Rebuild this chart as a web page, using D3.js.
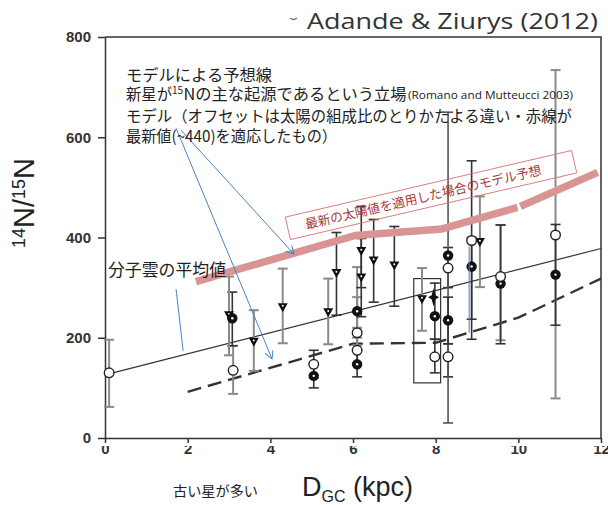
<!DOCTYPE html>
<html>
<head>
<meta charset="utf-8">
<script src="https://cdn.jsdelivr.net/npm/d3@7"></script>
<style>
body{margin:0;background:#fff;}
svg{display:block;}
</style>
</head>
<body>
<svg id="chart" width="608" height="505"></svg>
<script>
// tick labels
var xTicks = [0, 2, 4, 6, 8, 10, 12];
var yTicks = [0, 200, 400, 600, 800];

// open circles (D_GC kpc, 14N/15N, error low, error high, source)
var openD   = [0.1, 3.1, 5.05, 6.1, 6.1, 7.98, 8.3, 8.3, 8.87, 9.57, 10.9];
var openV   = [130, 135, 147, 210, 175, 162, 339, 162, 394, 322, 405];
var openLo  = [62, 88, 120, 185, 150, 130, 300, 122, 237, 195, 79];
var openHi  = [196, 184, 175, 281, 200, 197, 380, 188, 553, 425, 734];
var openSrc = [1, 1, 0, 1, 1, 0, 0, 0, 0, 1, 1];

// filled circles
var fillD   = [3.08, 5.05, 6.1, 6.1, 7.98, 8.3, 8.3, 8.87, 9.57, 10.9];
var fillV   = [239, 124, 253, 147, 243, 364, 235, 342, 308, 326];
var fillLo  = [184, 100, 220, 122, 197, 30, 188, 197, 188, 225];
var fillHi  = [291, 150, 341, 175, 309, 650, 281, 400, 425, 426];
var fillSrc = [0, 0, 1, 0, 0, 2, 0, 0, 0, 0];

// triangles (down)
var triD   = [3.0, 3.6, 4.3, 5.4, 5.6, 6.2, 6.2, 6.5, 7.0, 7.67, 9.07];
var triV   = [245, 192, 261, 251, 329, 373, 320, 354, 344, 277, 391];
var triLo  = [165, 134, 189, 187, 245, 300, 242, 271, 263, 214, 301];
var triHi  = [322, 255, 338, 318, 410, 462, 398, 436, 422, 339, 482];
var triSrc = [1, 1, 1, 1, 0, 0, 0, 0, 0, 1, 1];

// star
var starD = [7.95];
var starV = [281];

// molecular cloud mean (solid)
var meanD = [0, 12];
var meanV = [126, 378];

// model (dashed)
var dashD = [2, 6, 8, 10, 12];
var dashV = [92, 188, 190, 240, 318];

// model with latest solar value (red, two pieces)
var redD1 = [2.2, 6.05, 8.15, 9.98];
var redV1 = [312, 404, 417, 460];
var redD2 = [10.05, 11.92];
var redV2 = [462, 530];

// box around the solar-neighbourhood group
var boxD = [7.47, 8.12];
var boxV = [110, 318];

var svg = d3.select('#chart');
var x = d3.scaleLinear().domain([0, 12]).range([105, 601]);
var y = d3.scaleLinear().domain([0, 800]).range([438, 37]);

var ink = '#333';
var barCol = ['#333', '#8a8a8a', '#555'];

var defs = svg.append('defs');
defs.append('clipPath').attr('id', 'xlab')
	.append('rect').attr('x', -40).attr('y', 8).attr('width', 80).attr('height', 60);
defs.append('marker').attr('id', 'arr')
	.attr('viewBox', '0 0 10 10').attr('refX', 9).attr('refY', 5)
	.attr('markerWidth', 9).attr('markerHeight', 9)
	.attr('markerUnits', 'userSpaceOnUse').attr('orient', 'auto')
	.append('path').attr('d', 'M0,0 L9,5 L0,10')
	.attr('fill', 'none').attr('stroke', '#4f81bd').attr('stroke-width', 1.1);

// axes
var gy = svg.append('g').attr('transform', 'translate(105,0)')
	.call(d3.axisLeft(y).tickValues(yTicks).tickSize(7).tickSizeOuter(0).tickPadding(7));
var gx = svg.append('g').attr('transform', 'translate(0,438)')
	.call(d3.axisBottom(x).tickValues(xTicks).tickSize(5).tickSizeOuter(0).tickPadding(0));
[gx, gy].forEach(function(g){
	g.selectAll('path, line').attr('stroke', ink).attr('stroke-width', 1.5);
	g.selectAll('text').attr('fill', ink)
		.style('font', 'bold 15px "Liberation Sans", Arial, sans-serif');
});
gx.selectAll('text').attr('clip-path', 'url(#xlab)');

// frame top / right
svg.append('path')
	.attr('d', 'M' + x(0) + ',' + y(800) + 'H' + x(12) + 'V' + y(0))
	.attr('fill', 'none').attr('stroke', ink).attr('stroke-width', 1.5);

var line = d3.line().x(function(d){ return x(d[0]); }).y(function(d){ return y(d[1]); });

// mean line
svg.append('path').attr('d', line(d3.zip(meanD, meanV)))
	.attr('fill', 'none').attr('stroke', ink).attr('stroke-width', 1.2);

// dashed model
svg.append('path').attr('d', line(d3.zip(dashD, dashV)))
	.attr('fill', 'none').attr('stroke', ink).attr('stroke-width', 2.4)
	.attr('stroke-dasharray', '14,7');

// box
svg.append('rect')
	.attr('x', x(boxD[0])).attr('y', y(boxV[1]))
	.attr('width', x(boxD[1]) - x(boxD[0])).attr('height', y(boxV[0]) - y(boxV[1]))
	.attr('fill', 'none').attr('stroke', ink).attr('stroke-width', 1.2);

// error bars
function bars(D, lo, hi, src){
	var g = svg.append('g');
	D.forEach(function(d, i){
		var c = barCol[src[i]], w = src[i] === 1 ? 2 : 1.6;
		g.append('line').attr('x1', x(d)).attr('x2', x(d))
			.attr('y1', y(lo[i])).attr('y2', y(hi[i]))
			.attr('stroke', c).attr('stroke-width', w);
		[lo[i], hi[i]].forEach(function(v){
			g.append('line').attr('x1', x(d) - 5).attr('x2', x(d) + 5)
				.attr('y1', y(v)).attr('y2', y(v))
				.attr('stroke', c).attr('stroke-width', w);
		});
	});
}
bars(openD, openLo, openHi, openSrc);
bars(fillD, fillLo, fillHi, fillSrc);
bars(triD, triLo, triHi, triSrc);

// red model line
[[redD1, redV1], [redD2, redV2]].forEach(function(s){
	svg.append('path').attr('d', line(d3.zip(s[0], s[1])))
		.attr('fill', 'none').attr('stroke', '#d99594').attr('stroke-width', 7.5)
		.attr('stroke-linejoin', 'round');
});

// markers
var pts = svg.append('g');
triD.forEach(function(d, i){
	pts.append('path')
		.attr('transform', 'translate(' + x(d) + ',' + y(triV[i]) + ')')
		.attr('d', 'M-5,-4 L5,-4 L0,5Z').attr('fill', '#111');
	pts.append('circle').attr('cx', x(d)).attr('cy', y(triV[i]) - 1.3).attr('r', 1)
		.attr('fill', '#fff');
});
fillD.forEach(function(d, i){
	pts.append('circle').attr('cx', x(d)).attr('cy', y(fillV[i])).attr('r', 5.2)
		.attr('fill', '#111');
	pts.append('circle').attr('cx', x(d)).attr('cy', y(fillV[i])).attr('r', 1.2)
		.attr('fill', '#fff');
});
openD.forEach(function(d, i){
	pts.append('circle').attr('cx', x(d)).attr('cy', y(openV[i])).attr('r', 4.8)
		.attr('fill', '#fff').attr('stroke', '#222').attr('stroke-width', 1.4);
});
starD.forEach(function(d, i){
	pts.append('path')
		.attr('transform', 'translate(' + x(d) + ',' + y(starV[i]) + ')')
		.attr('d', 'M0,-9 L2,-2 L5.5,0 L2,2 L0,9 L-2,2 L-5.5,0 L-2,-2Z')
		.attr('fill', '#111');
});

// blue annotation strokes
var blue = svg.append('g').attr('stroke', '#4f81bd').attr('fill', 'none').attr('stroke-width', 1);
blue.append('line').attr('x1', x(1.72)).attr('y1', y(618)).attr('x2', x(4.04)).attr('y2', y(158))
	.attr('marker-end', 'url(#arr)');
blue.append('line').attr('x1', x(1.84)).attr('y1', y(614)).attr('x2', x(4.57)).attr('y2', y(367))
	.attr('marker-end', 'url(#arr)');
blue.append('line').attr('x1', x(1.72)).attr('y1', y(297)).attr('x2', x(1.89)).attr('y2', y(174));
blue.append('line').attr('x1', x(8.81)).attr('y1', y(382)).attr('x2', x(8.81)).attr('y2', y(210));

// red note box
var note = svg.append('g').attr('transform', 'translate(431,195) rotate(-13.1)');
note.append('rect').attr('x', -147).attr('y', -11.5).attr('width', 294).attr('height', 23)
	.attr('fill', 'none').attr('stroke', '#d9696a').attr('stroke-width', 0.8);
note.append('text').attr('x', -8).attr('y', 5)
	.attr('text-anchor', 'middle').attr('fill', '#a8383a')
	.attr('textLength', 242).attr('lengthAdjust', 'spacingAndGlyphs')
	.style('font', '13px "Noto Sans CJK JP", sans-serif')
	.text('最新の太陽値を適用した場合のモデル予想');

// text
var jp = '"Noto Sans CJK JP", sans-serif';
function label(tx, px, py, size, len, fam, col){
	var t = svg.append('text').attr('x', px).attr('y', py)
		.attr('fill', col || '#222')
		.style('font-size', size + 'px').style('font-family', fam || jp)
		.text(tx);
	if(len){ t.attr('textLength', len).attr('lengthAdjust', 'spacingAndGlyphs'); }
	return t;
}
label('モデルによる予想線', 126, 81, 15.5, 146);
label('新星が', 126, 99.5, 15.5, 46);
label('15', 172, 94, 10, 11);
label('Nの主な起源であるという立場', 183.5, 99.5, 15.5, 223);
label('(Romano and Mutteucci 2003)', 408, 99, 11, 165, '"Open Sans", sans-serif');
label('モデル（オフセットは太陽の組成比のとりかたよる違い・赤線が', 126, 121.5, 15.5, 446);
label('最新値(~440)を適応したもの）', 126, 141.5, 15.5, 211);
label('分子雲の平均値', 108, 276, 17, 118);
label('古い星が多い', 173, 496, 14, 85);

label('Adande & Ziurys (2012)', 307, 29, 21, 291, '"Open Sans", sans-serif', '#333');
svg.append('path').attr('d', 'M290,18 q3.5,3 7,0').attr('fill', 'none')
	.attr('stroke', '#777').attr('stroke-width', 1.3);

// axis titles
var xt = svg.append('text').attr('x', 302).attr('y', 496).attr('fill', '#222')
	.style('font-family', '"Liberation Sans", Arial, sans-serif');
xt.append('tspan').style('font-size', '27px').text('D');
xt.append('tspan').style('font-size', '16px').attr('dy', 6).text('GC');
xt.append('tspan').style('font-size', '27px').attr('dy', -6).text(' (kpc)');

var yt = svg.append('text').attr('transform', 'translate(34,203) rotate(-90)')
	.attr('text-anchor', 'middle').attr('fill', '#222')
	.style('font-family', '"Liberation Sans", Arial, sans-serif');
yt.append('tspan').style('font-size', '18px').attr('dy', -9).text('14');
yt.append('tspan').style('font-size', '29px').attr('dy', 9).text('N/');
yt.append('tspan').style('font-size', '18px').attr('dy', -9).text('15');
yt.append('tspan').style('font-size', '29px').attr('dy', 9).text('N');
</script>
</body>
</html>
